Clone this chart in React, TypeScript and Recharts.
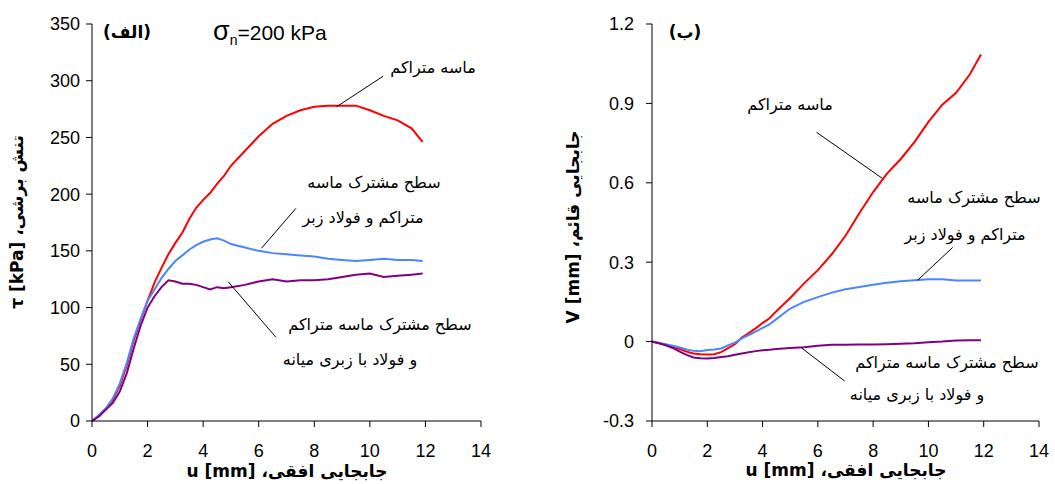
import React from "react";
import { LineChart, Line, XAxis, YAxis, ReferenceLine } from "recharts";

// horizontal displacement u [mm], shared by both panels
const uValues = [
  0, 0.25, 0.5, 0.75, 1, 1.25, 1.5, 1.75, 2, 2.25, 2.5, 2.75, 3, 3.25, 3.5, 3.75, 4, 4.25,
  4.5, 4.75, 5, 5.5, 6, 6.5, 7, 7.5, 8, 8.5, 9, 9.5, 10, 10.5, 11, 11.5, 11.9,
];

// (الف) shear stress tau [kPa]
const tauDenseSand = [
  0, 5, 11, 19, 31, 49, 71, 89, 106, 122, 135, 147, 157, 166, 178, 188, 195, 201,
  209, 216, 225, 238, 251, 262, 269, 274, 277, 278, 278, 278, 274, 269, 265, 258, 246,
];
const tauRoughSteel = [
  0, 5, 11, 20, 33, 51, 73, 90, 106, 116, 126, 134, 141, 146, 151, 155, 158, 160,
  161, 159, 156, 153, 150, 148, 147, 146, 145, 143, 142, 141, 142, 143, 142, 142, 141,
];
const tauMediumSteel = [
  0, 4, 10, 16, 26, 42, 64, 84, 100, 110, 118, 124, 123, 121, 121, 120, 118, 116,
  118, 117, 118, 120, 123, 125, 123, 124, 124, 125, 127, 129, 130, 127, 128, 129, 130,
];

// (ب) vertical displacement V [mm]
const vDenseSand = [
  0, -0.005, -0.012, -0.02, -0.028, -0.038, -0.045, -0.048, -0.049, -0.048, -0.04, -0.025,
  -0.01, 0.015, 0.032, 0.05, 0.07, 0.088, 0.115, 0.14, 0.165, 0.22, 0.27, 0.33, 0.4, 0.485,
  0.565, 0.635, 0.69, 0.755, 0.83, 0.895, 0.94, 1.01, 1.085,
];
const vRoughSteel = [
  0, -0.005, -0.01, -0.016, -0.022, -0.03, -0.035, -0.036, -0.032, -0.03, -0.026, -0.014,
  -0.004, 0.012, 0.025, 0.038, 0.052, 0.065, 0.085, 0.105, 0.125, 0.15, 0.168, 0.185,
  0.198, 0.206, 0.215, 0.222, 0.228, 0.232, 0.236, 0.236, 0.231, 0.231, 0.231,
];
const vMediumSteel = [
  0, -0.006, -0.014, -0.024, -0.038, -0.05, -0.06, -0.063, -0.064, -0.062, -0.058, -0.055,
  -0.05, -0.045, -0.04, -0.036, -0.033, -0.031, -0.028, -0.026, -0.024, -0.021, -0.016,
  -0.012, -0.012, -0.011, -0.011, -0.01, -0.008, -0.006, -0.002, 0, 0.004, 0.005, 0.005,
];

const uTicks = [0, 2, 4, 6, 8, 10, 12, 14];
const tauTicks = [0, 50, 100, 150, 200, 250, 300, 350];
const vTicks = [-0.3, 0, 0.3, 0.6, 0.9, 1.2];

// leader lines from the notes to the curves, in data units
const tauLeaders = [
  [{ x: 10.48, y: 304 }, { x: 8.8, y: 277 }],
  [{ x: 7.34, y: 187.5 }, { x: 6.1, y: 152.3 }],
  [{ x: 4.9, y: 122.8 }, { x: 6.62, y: 73.8 }],
];
const vLeaders = [
  [{ x: 5.95, y: 0.791 }, { x: 8.33, y: 0.617 }],
  [{ x: 10.88, y: 0.356 }, { x: 9.61, y: 0.232 }],
  [{ x: 5.4, y: -0.023 }, { x: 6.97, y: -0.149 }],
];

const shearData = uValues.map((u, i) => ({
  u,
  dense: tauDenseSand[i],
  rough: tauRoughSteel[i],
  medium: tauMediumSteel[i],
}));
const vertData = uValues.map((u, i) => ({
  u,
  dense: vDenseSand[i],
  rough: vRoughSteel[i],
  medium: vMediumSteel[i],
}));

const SANS = '"Liberation Sans", Arial, sans-serif';
const FARSI = '"DejaVu Sans", "Liberation Serif", serif';
const RED = "#ff0000";
const BLUE = "#4a86ff";
const PURPLE = "#800080";

const Note = ({
  x,
  y,
  children,
  size = 16,
  bold = false,
  rotate = false,
}: {
  x: number;
  y: number;
  children: React.ReactNode;
  size?: number;
  bold?: boolean;
  rotate?: boolean;
}) => (
  <div
    dir="rtl"
    style={{
      position: "absolute",
      left: x,
      top: y,
      transform: `translate(-50%, -50%)${rotate ? " rotate(-90deg)" : ""}`,
      whiteSpace: "nowrap",
      fontFamily: FARSI,
      fontSize: size,
      fontWeight: bold ? "bold" : "normal",
      color: "#000",
      lineHeight: 1,
    }}
  >
    {children}
  </div>
);

const tickStyle = { fill: "#000", fontSize: 18, fontFamily: SANS };

const series = (
  [
    ["dense", RED],
    ["rough", BLUE],
    ["medium", PURPLE],
  ] as const
).map(([key, color]) => (
  <Line
    key={key}
    type="linear"
    dataKey={key}
    stroke={color}
    strokeWidth={2}
    dot={false}
    isAnimationActive={false}
  />
));

const xAxis = (
  <XAxis
    type="number"
    dataKey="u"
    domain={[0, 14]}
    ticks={uTicks}
    stroke="#000"
    tick={tickStyle}
    tickSize={6}
    tickMargin={17}
    height={63}
    allowDataOverflow
  />
);

export default function App() {
  return (
    <div style={{ position: "relative", width: 1055, height: 484, background: "#fff", overflow: "hidden" }}>
      <style>{"body{margin:0}"}</style>

      <div style={{ position: "absolute", left: 0, top: 0 }}>
        <LineChart width={500} height={484} data={shearData} margin={{ top: 24, right: 19, left: 0, bottom: 0 }}>
          {xAxis}
          <YAxis
            type="number"
            domain={[0, 350]}
            ticks={tauTicks}
            stroke="#000"
            tick={tickStyle}
            tickSize={6}
            tickMargin={6}
            width={92}
          />
          {series}
          {tauLeaders.map((seg, i) => (
            <ReferenceLine key={i} segment={seg} stroke="#000" strokeWidth={1} ifOverflow="visible" />
          ))}
        </LineChart>
      </div>

      <div style={{ position: "absolute", left: 560, top: 0 }}>
        <LineChart width={495} height={484} data={vertData} margin={{ top: 24, right: 16, left: 0, bottom: 0 }}>
          {xAxis}
          <YAxis
            type="number"
            domain={[-0.3, 1.2]}
            ticks={vTicks}
            stroke="#000"
            tick={tickStyle}
            tickSize={6}
            tickMargin={12}
            width={92}
          />
          {series}
          {vLeaders.map((seg, i) => (
            <ReferenceLine key={i} segment={seg} stroke="#000" strokeWidth={1} ifOverflow="visible" />
          ))}
        </LineChart>
      </div>

      {/* panel (الف) */}
      <Note x={127} y={32} size={17} bold>(الف)</Note>
      <div
        style={{
          position: "absolute",
          left: 213,
          top: 18,
          fontFamily: SANS,
          fontSize: 21,
          whiteSpace: "nowrap",
          lineHeight: 1,
        }}
      >
        <span style={{ fontSize: 27 }}>σ</span>
        <sub style={{ fontSize: 14 }}>n</sub>=200 kPa
      </div>
      <Note x={433} y={68}>ماسه متراکم</Note>
      <Note x={374} y={183}>سطح مشترک ماسه</Note>
      <Note x={363} y={218}>متراکم و فولاد زبر</Note>
      <Note x={380} y={325}>سطح مشترک ماسه متراکم</Note>
      <Note x={350} y={360}>و فولاد با زبری میانه</Note>
      <Note x={287} y={471} size={17} bold>جابجایی افقی، u [mm]</Note>
      <Note x={17} y={222} size={17} bold rotate>تنش برشی، τ [kPa]</Note>

      {/* panel (ب) */}
      <Note x={685} y={32} size={17} bold>(ب)</Note>
      <Note x={790} y={105}>ماسه متراکم</Note>
      <Note x={974} y={198}>سطح مشترک ماسه</Note>
      <Note x={965} y={235}>متراکم و فولاد زبر</Note>
      <Note x={947} y={363}>سطح مشترک ماسه متراکم</Note>
      <Note x={917} y={395}>و فولاد با زبری میانه</Note>
      <Note x={846} y={470} size={17} bold>جابجایی افقی، u [mm]</Note>
      <Note x={573} y={227} size={17} bold rotate>جابجایی قائم، V [mm]</Note>
    </div>
  );
}
